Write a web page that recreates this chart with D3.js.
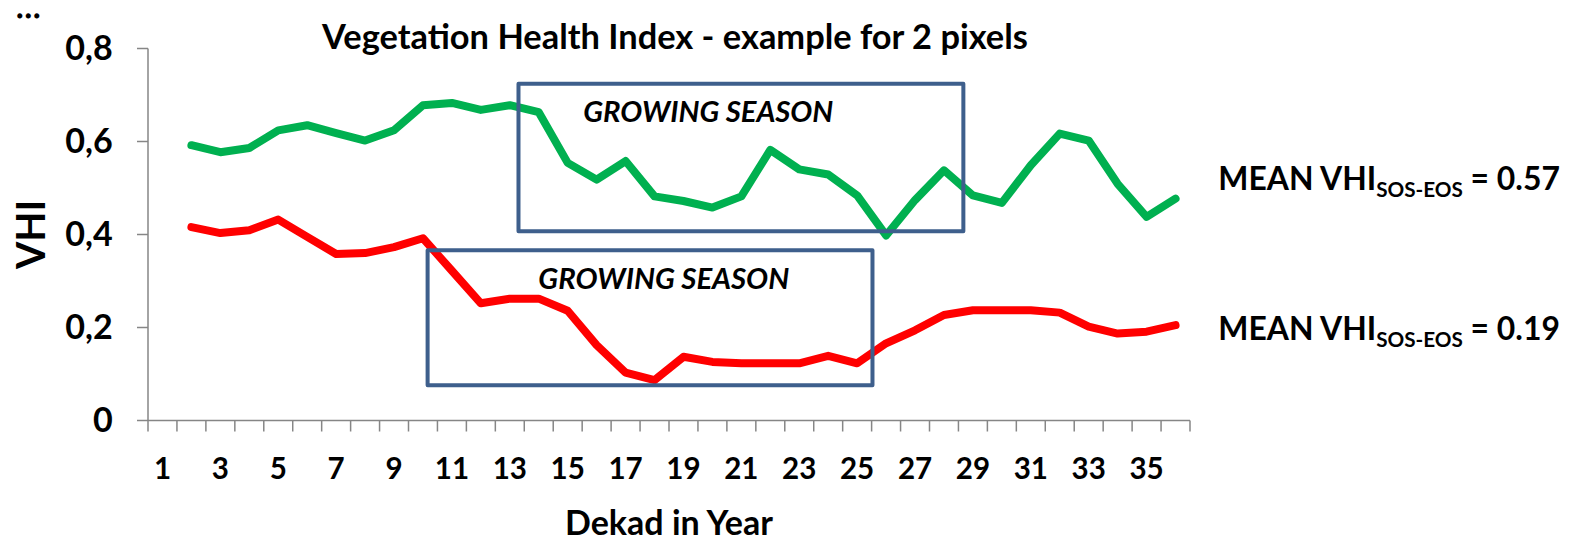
<!DOCTYPE html>
<html>
<head>
<meta charset="utf-8">
<script src="https://cdn.jsdelivr.net/npm/d3@7"></script>
<style>
  html, body { margin: 0; padding: 0; background: #fff; }
  svg text { font-family: Lato, "Open Sans", "Noto Sans", sans-serif; font-weight: bold; fill: #000; }
</style>
</head>
<body>
<svg id="chart" width="1575" height="541"></svg>
<script>
// ---------- data ----------
const categories = d3.range(1, 37);                 // dekads 1..36
const tickLabels = ["1","3","5","7","9","11","13","15","17","19","21","23","25","27","29","31","33","35"];
const yTickValues = [0, 0.2, 0.4, 0.6, 0.8];
const yTickLabels = ["0", "0,2", "0,4", "0,6", "0,8"];
const seriesDekads = d3.range(2, 37);                 // dekads 2..36
const greenPixel = [0.592,0.577,0.586,0.624,0.635,0.618,0.602,0.624,0.678,0.683,0.668,0.678,0.663,0.554,0.518,0.558,0.482,0.472,0.458,0.482,0.582,0.540,0.529,0.484,0.398,0.474,0.538,0.484,0.468,0.549,0.617,0.602,0.509,0.438,0.477];
const redPixel   = [0.416,0.403,0.409,0.432,0.395,0.358,0.360,0.373,0.392,0.322,0.252,0.262,0.262,0.236,0.162,0.103,0.087,0.137,0.126,0.123,0.123,0.123,0.139,0.123,0.166,0.194,0.227,0.237,0.237,0.237,0.232,0.202,0.187,0.191,0.205];
// growing season boxes in data units: [dekadStart, dekadEnd, vhiLow, vhiHigh]
const greenSeason = [13.3, 28.67, 0.407, 0.724];
const redSeason   = [10.16, 25.53, 0.076, 0.366];
const meanGreen = "0.57";
const meanRed = "0.19";

// ---------- layout ----------
const svg = d3.select("#chart");
const x = d3.scaleLinear().domain([0.5, 36.5]).range([148, 1190]);
const y = d3.scaleLinear().domain([0, 0.8]).range([420.5, 48.5]);
const axisColor = "#868686";

function fit(sel, w) {
  sel.style("font-size", "100px");
  const cur = sel.node().getComputedTextLength();
  sel.style("font-size", (100 * w / cur) + "px");
  return 100 * w / cur;
}

// y axis
svg.append("line").attr("x1", x(0.5)).attr("x2", x(0.5)).attr("y1", y(0.8)).attr("y2", y(0))
  .attr("stroke", axisColor).attr("stroke-width", 1.5);
yTickValues.forEach(v => {
  svg.append("line").attr("x1", x(0.5) - 11).attr("x2", x(0.5)).attr("y1", y(v)).attr("y2", y(v))
    .attr("stroke", axisColor).attr("stroke-width", 1.5);
});
const probe = svg.append("text").text("0,4");
const yFs = fit(probe, 47.5);
probe.remove();
yTickValues.forEach((v, i) => {
  svg.append("text").attr("x", 112.7).attr("y", y(v) + 11).attr("text-anchor", "end")
    .style("font-size", yFs + "px").text(yTickLabels[i]);
});

// x axis
svg.append("line").attr("x1", x(0.5)).attr("x2", x(36.5)).attr("y1", y(0)).attr("y2", y(0))
  .attr("stroke", axisColor).attr("stroke-width", 1.5);
d3.range(0, 37).forEach(i => {
  svg.append("line").attr("x1", x(i + 0.5)).attr("x2", x(i + 0.5)).attr("y1", y(0)).attr("y2", y(0) + 11)
    .attr("stroke", axisColor).attr("stroke-width", 1.5);
});
const probe2 = svg.append("text").text("35");
const xFs = fit(probe2, 34.3);
probe2.remove();
tickLabels.forEach(t => {
  svg.append("text").attr("x", x(+t)).attr("y", 479).attr("text-anchor", "middle")
    .style("font-size", xFs + "px").text(t);
});

// axis titles
const xt = svg.append("text").attr("x", 669).attr("y", 535).attr("text-anchor", "middle").text("Dekad in Year");
fit(xt, 208);
const yt = svg.append("text").attr("transform", "translate(45,234.5) rotate(-90)").attr("text-anchor", "middle").text("VHI");
fit(yt, 69);

// title
const tt = svg.append("text").attr("x", 675).attr("y", 48.5).attr("text-anchor", "middle")
  .text("Vegetation Health Index - example for 2 pixels");
fit(tt, 706);

// ellipsis (small font, thickened so it stays inside the page)
svg.append("text").attr("x", 18).attr("y", 16.5)
  .style("font-size", "15px").style("letter-spacing", "5px")
  .attr("stroke", "#000").attr("stroke-width", 2.8).attr("stroke-linejoin", "round")
  .text("...");

// lines
const line = d3.line().x(d => x(d[0])).y(d => y(d[1]));
svg.append("path").datum(seriesDekads.map((d, i) => [d, greenPixel[i]]))
  .attr("d", line).attr("fill", "none").attr("stroke", "#00B050").attr("stroke-width", 8)
  .attr("stroke-linejoin", "round").attr("stroke-linecap", "round");
svg.append("path").datum(seriesDekads.map((d, i) => [d, redPixel[i]]))
  .attr("d", line).attr("fill", "none").attr("stroke", "#FF0000").attr("stroke-width", 8)
  .attr("stroke-linejoin", "round").attr("stroke-linecap", "round");

// growing season boxes
[greenSeason, redSeason].forEach(b => {
  svg.append("rect").attr("x", x(b[0])).attr("y", y(b[3]))
    .attr("width", x(b[1]) - x(b[0])).attr("height", y(b[2]) - y(b[3]))
    .attr("fill", "none").attr("stroke", "#3E5F8C").attr("stroke-width", 4)
    .attr("stroke-linejoin", "round");
});
const g1 = svg.append("text").attr("x", 708.3).attr("y", 121.7).attr("text-anchor", "middle")
  .style("font-style", "italic").text("GROWING SEASON");
fit(g1, 250);
const g2 = svg.append("text").attr("x", 663.8).attr("y", 289.3).attr("text-anchor", "middle")
  .style("font-style", "italic").text("GROWING SEASON");
fit(g2, 251);

// mean labels
function meanLabel(yBase, val) {
  const t = svg.append("text").attr("x", 1218.3).attr("y", yBase);
  t.append("tspan").text("MEAN VHI");
  t.append("tspan").attr("class", "sub").attr("dy", 7).text("SOS-EOS");
  t.append("tspan").attr("class", "after").attr("dy", -7).text(" = " + val);
  t.style("font-size", "37px");
  t.select(".sub").style("font-size", "24px");
  const w = t.node().getComputedTextLength();
  const k = (1560 - 1218.3) / w;
  t.style("font-size", (37 * k) + "px");
  t.select(".sub").style("font-size", (24 * k) + "px");
}
meanLabel(190, meanGreen);
meanLabel(340, meanRed);
</script>
</body>
</html>
